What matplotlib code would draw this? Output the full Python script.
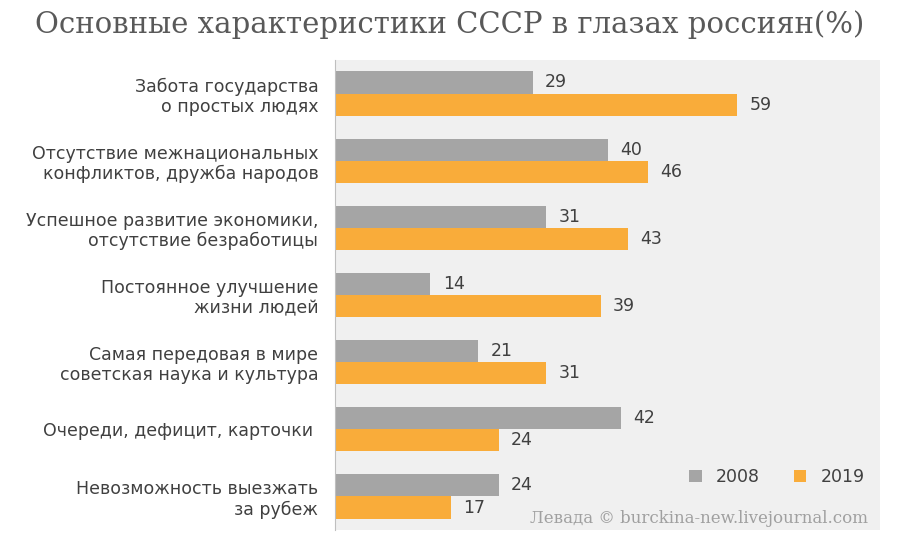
import matplotlib.pyplot as plt
import numpy as np

categories = ["Забота государства\nо простых людях",
              "Отсутствие межнациональных\nконфликтов, дружба народов",
              "Успешное развитие экономики,\nотсутствие безработицы",
              "Постоянное улучшение\nжизни людей",
              "Самая передовая в мире\nсоветская наука и культура",
              "Очереди, дефицит, карточки ",
              "Невозможность выезжать\nза рубеж"]
v2008 = [29, 40, 31, 14, 21, 42, 24]
v2019 = [59, 46, 43, 39, 31, 24, 17]
years = ["2008", "2019"]

fig = plt.figure(figsize=(9, 5.48), dpi=100)
ax = fig.add_axes([335/900, 1-530/548, 545/900, 470/548])
ax.set_facecolor("#f0f0f0")
y = np.arange(len(categories))
h = 0.33
ax.barh(y - h/2, v2008, height=h, color="#a5a5a5", label=years[0])
ax.barh(y + h/2, v2019, height=h, color="#f9ac3a", label=years[1])
for yi, a, b in zip(y, v2008, v2019):
    ax.text(a + 1.8, yi - h/2, str(a), va="center", fontsize=12.5, color="#404040")
    ax.text(b + 1.8, yi + h/2, str(b), va="center", fontsize=12.5, color="#404040")
ax.set_xlim(0, 80)
ax.set_ylim(len(categories) - 0.5, -0.5)
ax.set_yticks(y)
ax.set_yticklabels(categories, fontsize=12.5, color="#404040", linespacing=1.15)
ax.set_xticks([])
ax.tick_params(axis="y", length=0, pad=12)
for s in ["top", "right", "bottom"]:
    ax.spines[s].set_visible(False)
ax.spines["left"].set_color("#bfbfbf")
ax.legend(loc="lower right", bbox_to_anchor=(1.0, 0.06), ncol=2, frameon=False,
          fontsize=12.5, handlelength=0.7, handleheight=0.7, labelcolor="#404040")
fig.text(0.5, 0.94, "Основные характеристики СССР в глазах россиян(%)",
         ha="center", fontsize=21, family="DejaVu Serif", color="#595959")
fig.text(0.965, 0.045, "Левада © burckina-new.livejournal.com", ha="right",
         fontsize=12, family="DejaVu Serif", color="#a0a0a0")
fig.savefig("out.png")
